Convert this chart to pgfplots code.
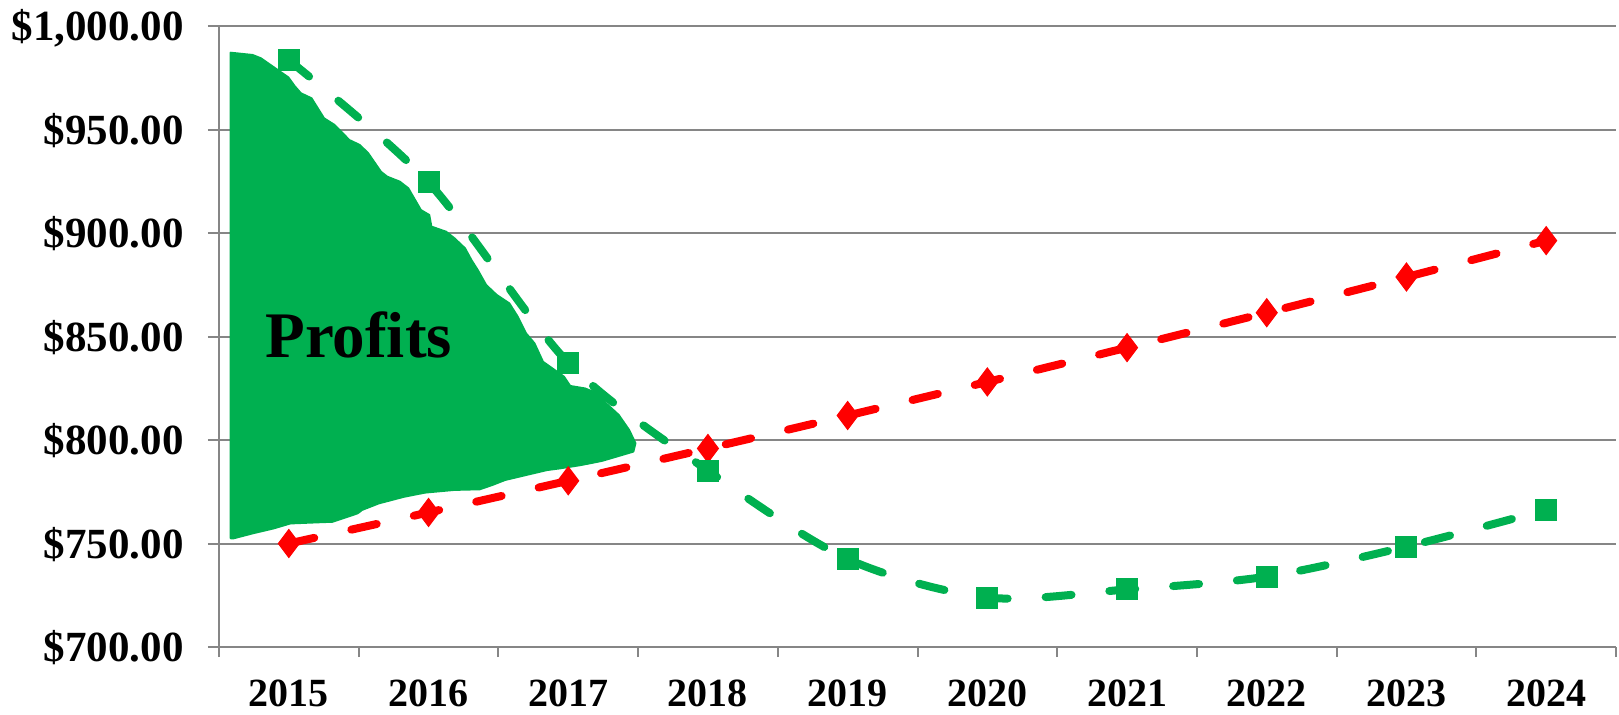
\documentclass[border=0pt]{standalone}
\usepackage{fontspec}
\setmainfont{Liberation Serif}
\usepackage{pgfplots}
\pgfplotsset{compat=1.18}
\definecolor{xlgreen}{RGB}{0,176,80}
\definecolor{xlred}{RGB}{255,0,0}
\definecolor{xlgray}{RGB}{134,134,134}
\begin{document}
\begin{tikzpicture}
\useasboundingbox (-109.5pt,-33.5pt) rectangle (700pt,323.5pt);
\begin{axis}[
  at={(0,0)}, anchor=south west,
  scale only axis, width=698.5pt, height=310.5pt,
  xmin=-0.5, xmax=9.5, ymin=700, ymax=1000,
  axis x line*=bottom, axis y line*=left,
  axis line style={xlgray, line width=1pt, -},
  xtick={0,1,2,3,4,5,6,7,8,9},
  xticklabels={2015,2016,2017,2018,2019,2020,2021,2022,2023,2024},
  minor xtick={-0.5,0.5,1.5,2.5,3.5,4.5,5.5,6.5,7.5,8.5,9.5},
  major x tick style={draw=none},
  ytick={700,750,800,850,900,950,1000},
  yticklabels={\$700.00,\$750.00,\$800.00,\$850.00,\$900.00,\$950.00,{\$1,000.00}},
  tick align=outside,
  major tick length=5.5pt, minor tick length=5pt,
  tick style={xlgray, line width=1pt},
  ymajorgrids, major grid style={xlgray, line width=1pt},
  yticklabel style={font=\bfseries\fontsize{21.5}{24}\selectfont, anchor=base east, inner sep=0pt, xshift=-12pt, yshift=-7.3pt},
  xticklabel style={font=\bfseries\fontsize{20}{24}\selectfont, anchor=base, inner sep=0pt, yshift=-24pt},
  clip=false,
]
% Profits freeform area
\addplot[fill=xlgreen, draw=xlgreen, line width=1pt, line join=round] coordinates {
(-0.417,987.1) (-0.260,986.0) (-0.200,984.4) (-0.079,978.7) (-0.004,975.2)
(0.041,971.0) (0.086,967.5) (0.162,965.1) (0.252,955.4) (0.327,952.2)
(0.433,944.9) (0.508,942.5) (0.568,938.5) (0.659,929.6) (0.704,927.2)
(0.794,924.8) (0.855,921.6) (0.945,911.1) (1.005,908.7) (1.020,903.1)
(1.126,900.6) (1.186,897.4) (1.261,892.6) (1.307,886.9) (1.352,882.1)
(1.412,874.9) (1.487,870.1) (1.578,866.0) (1.638,859.6) (1.698,851.5)
(1.758,846.7) (1.819,837.8) (1.969,830.6) (2.014,826.1) (2.120,824.9)
(2.210,822.5) (2.271,817.7) (2.361,812.1) (2.436,804.8) (2.481,798.4)
(2.466,794.4) (2.361,792.3) (2.240,789.9) (2.090,787.9) (1.939,786.3)
(1.849,785.5) (1.698,783.1) (1.548,780.7) (1.457,778.3) (1.367,776.2)
(1.186,775.9) (0.975,774.6) (0.825,772.6) (0.644,769.4) (0.523,766.2)
(0.493,764.6) (0.312,760.5) (0.192,760.2) (0.011,759.7) (-0.109,757.3)
(-0.260,754.9) (-0.396,752.5) (-0.417,752.5)
} -- cycle;
% Red series
\addplot[xlred, line width=4pt, dash pattern=on 13pt off 19pt, line cap=round, smooth,
  mark=diamond*, mark size=7pt, mark options={solid, fill=xlred, draw=xlred, line width=0.5pt}] coordinates {
(0,750.00) (1,765.00) (2,780.30) (3,795.91) (4,811.82) (5,828.06) (6,844.62) (7,861.51) (8,878.74) (9,896.32)
};
% Green series
\addplot[xlgreen, line width=4pt, dash pattern=on 13pt off 19pt, line cap=round, smooth,
  mark=square*, mark size=5.25pt, mark options={solid, fill=xlgreen, draw=xlgreen, line width=0.5pt}] coordinates {
(0,983.5) (1,924.4) (2,837.3) (3,785.2) (4,742.5) (5,723.9) (6,727.8) (7,734.0) (8,748.5) (9,766.3)
};
\node[anchor=base, font=\bfseries\fontsize{32.5}{36}\selectfont, inner sep=0pt] at (axis cs:0.5,840) {Profits};
\end{axis}
\end{tikzpicture}
\end{document}
